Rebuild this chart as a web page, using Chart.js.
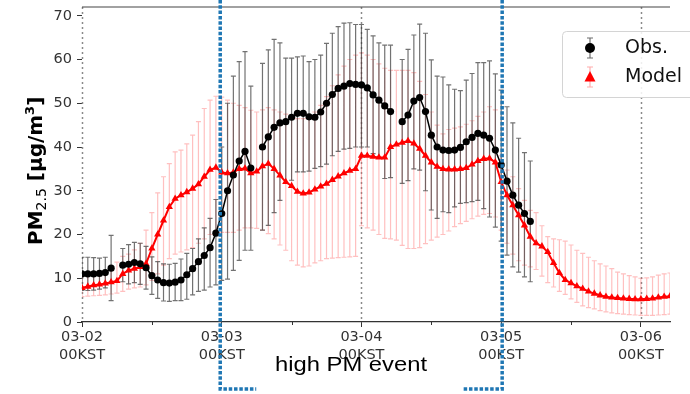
<!DOCTYPE html>
<html>
<head>
<meta charset="utf-8">
<script src="https://cdn.jsdelivr.net/npm/chart.js@4.4.1/dist/chart.umd.min.js"></script>
<style>
  html, body { margin: 0; padding: 0; background: #fff; }
  canvas { display: block; }
</style>
</head>
<body>
<canvas id="pmChart" width="690" height="394"></canvas>
<script>
// hourly values, index = hours since 03-02 00KST
const dayLabels = ["03-02", "03-03", "03-04", "03-05", "03-06"];
const xTicks = [0, 24, 48, 72, 96];
const yTicks = [0, 10, 20, 30, 40, 50, 60, 70];

const obsMean = [
  11.0, 11.0, 11.0, 11.1, 11.3, 12.3, null, 13.0, 13.2, 13.6,
  13.3, 12.4, 10.6, 9.6, 9.0, 8.9, 9.1, 9.6, 10.8, 12.2,
  13.8, 15.2, 17.0, 20.3, 24.8, 30.0, 33.6, 36.8, 39.0, 35.2,
  null, 40.0, 42.3, 44.5, 45.5, 45.8, 46.8, 47.7, 47.7, 46.9,
  46.8, 48.0, 50.0, 52.0, 53.4, 53.9, 54.5, 54.3, 54.2, 53.5,
  51.9, 50.7, 49.4, 48.1, null, 45.8, 47.3, 50.5, 51.3, 48.1,
  42.7, 40.0, 39.3, 39.2, 39.3, 39.9, 41.2, 42.2, 43.1, 42.7,
  42.0, 39.3, 35.9, 32.2, 29.0, 26.7, 24.8, 23.0
];
const obsHi = [
  14.8, 14.8, 14.7, 14.6, 14.8, 19.8, null, 16.8, 17.7, 18.2,
  18.0, 17.3, 14.9, 13.8, 13.3, 13.2, 13.4, 14.4, 15.7, 16.8,
  19.0, 21.5, 23.7, 28.0, 40.0, 50.0, 56.2, 59.5, 61.8, 53.9,
  null, 59.1, 62.2, 64.6, 63.8, 60.3, 60.3, 60.6, 60.8, 59.5,
  60.0, 61.0, 63.7, 66.0, 67.5, 68.3, 68.4, 68.0, 68.0, 66.9,
  65.4, 63.8, 63.3, 63.3, null, 60.0, 62.3, 65.6, 68.1, 66.0,
  59.9, 56.2, 56.0, 54.2, 53.2, 52.9, 55.3, 56.8, 59.3, 59.3,
  59.7, 56.7, 53.0, 49.2, 45.5, 42.0, 38.7, 36.8
];
const obsLo = [
  7.2, 7.2, 7.3, 7.5, 7.8, 4.9, null, 9.2, 8.7, 9.0,
  8.6, 7.5, 6.3, 5.4, 4.8, 4.7, 4.9, 4.9, 5.2, 6.2,
  7.0, 7.3, 8.0, 8.5, 9.5, 9.8, 11.8, 14.1, 16.4, 16.4,
  null, 21.0, 22.1, 25.0, 27.8, 31.7, 32.4, 34.3, 34.3, 34.5,
  35.1, 35.5, 36.1, 38.0, 39.0, 39.5, 39.7, 40.0, 40.0, 40.0,
  38.5, 37.5, 32.8, 33.0, null, 31.7, 32.3, 35.0, 34.7, 30.0,
  25.6, 23.7, 25.2, 25.0, 26.3, 27.1, 27.3, 27.5, 27.8, 25.9,
  24.0, 21.7, 18.5, 15.3, 12.6, 11.4, 10.3, 9.2
];

const modelMean = [
  7.8, 8.1, 8.4, 8.6, 8.8, 9.1, 9.4, 11.0, 11.8, 12.2,
  12.6, 13.3, 16.8, 20.0, 23.2, 26.3, 28.2, 29.0, 29.7, 30.5,
  31.5, 33.2, 34.8, 35.3, 34.2, 34.0, 34.2, 35.0, 35.1, 34.0,
  34.4, 35.6, 36.2, 35.0, 33.5, 32.0, 31.1, 29.8, 29.4, 29.6,
  30.3, 31.0, 31.6, 32.5, 33.3, 34.0, 34.6, 35.0, 38.0, 38.0,
  37.8, 37.6, 37.6, 40.0, 40.6, 41.0, 41.4, 40.8, 39.6, 38.0,
  36.5, 35.5, 35.0, 34.9, 34.9, 35.0, 35.2, 36.0, 36.8, 37.3,
  37.4, 36.5, 32.0, 29.0, 26.7, 24.4, 22.1, 19.5, 18.0, 17.3,
  16.0, 13.5, 11.2, 9.6, 8.9, 8.2, 7.6, 7.0, 6.5, 6.1,
  5.8, 5.6, 5.5, 5.4, 5.3, 5.2, 5.2, 5.3, 5.4, 5.6,
  5.8, 5.9
];
const modelHi = [
  10.5, 10.7, 11.0, 11.2, 11.5, 12.5, 13.7, 15.0, 15.5, 16.5,
  18.0, 21.0, 25.0, 29.5, 33.2, 36.2, 38.9, 39.3, 40.7, 42.7,
  45.8, 48.8, 50.7, 51.6, 51.4, 50.7, 50.0, 49.5, 49.0, 48.4,
  48.0, 48.5, 49.0, 48.5, 48.0, 47.5, 47.0, 46.5, 46.5, 47.0,
  48.0, 49.5, 51.5, 54.0, 56.5, 58.5, 60.0, 61.0, 61.5, 61.0,
  60.0, 59.0, 58.0, 57.5, 57.5, 57.5, 57.5, 57.0, 55.0, 52.0,
  48.0, 45.0, 43.0, 44.0, 44.3, 44.6, 45.2, 46.0, 47.0, 48.0,
  49.2, 48.5, 38.0, 34.7, 33.2, 30.5, 27.8, 25.5, 25.0, 22.0,
  19.5, 19.0, 18.8, 18.5, 17.6, 16.4, 15.7, 14.8, 14.0, 13.3,
  12.8, 12.2, 11.4, 11.0, 10.6, 10.3, 10.0, 10.1, 10.3, 10.7,
  11.0, 11.2
];
const modelLo = [
  5.8, 5.9, 6.0, 6.1, 6.2, 6.4, 6.6, 7.0, 7.5, 7.8,
  8.0, 8.5, 9.5, 11.0, 13.0, 14.5, 15.5, 16.0, 16.5, 17.0,
  18.0, 19.0, 20.0, 20.5, 20.5, 20.5, 20.5, 21.0, 21.5, 21.5,
  21.4, 21.0, 20.2, 19.0, 17.6, 16.4, 14.0, 13.0, 12.6, 12.8,
  13.5, 14.0, 14.5, 14.6, 14.7, 14.8, 14.9, 15.0, 22.0, 21.5,
  21.0, 20.0, 19.1, 19.0, 18.7, 17.5, 16.8, 16.8, 17.0, 17.9,
  18.7, 19.4, 20.0, 20.8, 21.8, 22.5, 23.0, 23.6, 24.2, 24.6,
  24.8, 24.0, 21.0, 18.0, 15.5, 14.0, 13.0, 12.6, 12.0, 10.5,
  9.0, 8.0, 7.0, 6.3, 5.3, 4.5, 3.7, 3.3, 3.0, 2.6,
  2.3, 2.1, 1.9, 1.8, 1.7, 1.6, 1.5, 1.5, 1.5, 1.6,
  1.7, 1.8
];

// event window, in hours
const eventStart = 24;
const eventEnd = 72;

const BLUE = "#1f77b4";

function drawBars(ctx, xs, ys, lo, hi, color) {
  ctx.strokeStyle = color;
  ctx.lineWidth = 1.2;
  ctx.beginPath();
  lo.forEach((l, i) => {
    if (l == null || hi[i] == null) return;
    const px = xs.getPixelForValue(i);
    const y0 = ys.getPixelForValue(l);
    const y1 = ys.getPixelForValue(hi[i]);
    ctx.moveTo(px, y0); ctx.lineTo(px, y1);
    ctx.moveTo(px - 2.5, y0); ctx.lineTo(px + 2.5, y0);
    ctx.moveTo(px - 2.5, y1); ctx.lineTo(px + 2.5, y1);
  });
  ctx.stroke();
}

const backdrop = {
  id: "backdrop",
  beforeDatasetsDraw(chart) {
    const { ctx, chartArea: a, scales: { x, y } } = chart;
    ctx.save();
    // day separators
    ctx.strokeStyle = "#8a8a8a";
    ctx.lineWidth = 1.5;
    ctx.setLineDash([2, 3]);
    [0, 48, 96].forEach(h => {
      const px = Math.round(x.getPixelForValue(h)) + 0.5;
      ctx.beginPath();
      ctx.moveTo(px, a.top);
      ctx.lineTo(px, a.bottom);
      ctx.stroke();
    });
    ctx.setLineDash([]);
    // top spine
    ctx.strokeStyle = "#444";
    ctx.lineWidth = 1.2;
    ctx.beginPath();
    ctx.moveTo(a.left, a.top);
    ctx.lineTo(a.right, a.top);
    ctx.stroke();
    // minor ticks every 12 h
    ctx.strokeStyle = "#333";
    ctx.lineWidth = 1;
    [12, 36, 60, 84].forEach(h => {
      const px = Math.round(x.getPixelForValue(h)) + 0.5;
      ctx.beginPath();
      ctx.moveTo(px, a.bottom);
      ctx.lineTo(px, a.bottom + 3);
      ctx.stroke();
    });
    // error bars
    ctx.beginPath();
    ctx.rect(a.left, a.top, a.right - a.left, a.bottom - a.top);
    ctx.clip();
    drawBars(ctx, x, y, modelLo, modelHi, "rgba(255,90,90,0.38)");
    drawBars(ctx, x, y, obsLo, obsHi, "rgba(60,60,60,0.72)");
    ctx.restore();
  }
};

const overlay = {
  id: "overlay",
  afterDraw(chart) {
    const { ctx, scales: { x } } = chart;
    ctx.save();

    // y axis title with sub/superscript
    ctx.translate(42, 245);
    ctx.rotate(-Math.PI / 2);
    ctx.fillStyle = "#000";
    ctx.textBaseline = "alphabetic";
    let cx = 0;
    const part = (txt, font, dy) => {
      ctx.font = font;
      ctx.fillText(txt, cx, dy);
      cx += ctx.measureText(txt).width;
    };
    part("PM", "bold 20px 'DejaVu Sans'", 0);
    part("2.5", "14px 'DejaVu Sans'", 4);
    part(" [\u03bcg/m", "bold 20px 'DejaVu Sans'", 0);
    part("3", "bold 13px 'DejaVu Sans'", -8);
    part("]", "bold 20px 'DejaVu Sans'", 0);
    ctx.setTransform(1, 0, 0, 1, 0, 0);

    // legend
    const lx = 562, ly = 31, lw = 140, lh = 66;
    ctx.fillStyle = "rgba(255,255,255,0.85)";
    ctx.strokeStyle = "#d4d4d4";
    ctx.lineWidth = 1;
    ctx.beginPath();
    ctx.roundRect(lx + 0.5, ly + 0.5, lw, lh, 4);
    ctx.fill();
    ctx.stroke();

    const mark = (my, color, barColor, shape) => {
      ctx.strokeStyle = barColor;
      ctx.lineWidth = 1.2;
      ctx.beginPath();
      ctx.moveTo(590, my - 10); ctx.lineTo(590, my + 10);
      ctx.moveTo(587, my - 10); ctx.lineTo(593, my - 10);
      ctx.moveTo(587, my + 10); ctx.lineTo(593, my + 10);
      ctx.stroke();
      ctx.fillStyle = color;
      ctx.beginPath();
      if (shape === "circle") {
        ctx.arc(590, my, 5, 0, Math.PI * 2);
      } else {
        ctx.moveTo(590, my - 6);
        ctx.lineTo(595.5, my + 4.5);
        ctx.lineTo(584.5, my + 4.5);
        ctx.closePath();
      }
      ctx.fill();
    };
    mark(48, "#000", "rgba(60,60,60,0.75)", "circle");
    mark(77, "#ff0000", "rgba(255,90,90,0.5)", "triangle");
    ctx.fillStyle = "#111";
    ctx.font = "19px 'DejaVu Sans'";
    ctx.textBaseline = "middle";
    ctx.textAlign = "left";
    ctx.fillText("Obs.", 625, 48);
    ctx.fillText("Model", 625, 77);

    // event window brackets
    ctx.strokeStyle = BLUE;
    ctx.lineWidth = 3.5;
    ctx.setLineDash([3.5, 1.8]);
    const x0 = x.getPixelForValue(eventStart) - 1.5;
    const x1 = x.getPixelForValue(eventEnd) + 1;
    ctx.beginPath();
    ctx.moveTo(x0, 0); ctx.lineTo(x0, 389); ctx.lineTo(x0 + 36, 389);
    ctx.stroke();
    ctx.beginPath();
    ctx.moveTo(x1, 0); ctx.lineTo(x1, 389); ctx.lineTo(x1 - 40, 389);
    ctx.stroke();
    ctx.setLineDash([]);

    // event caption
    const cap = "high PM event";
    ctx.font = "21px 'Liberation Sans'";
    ctx.fillStyle = "#000";
    ctx.textBaseline = "alphabetic";
    ctx.textAlign = "left";
    const w = ctx.measureText(cap).width;
    ctx.translate(275, 371);
    ctx.scale(152 / w, 1);
    ctx.fillText(cap, 0, 0);
    ctx.restore();
  }
};

new Chart(document.getElementById("pmChart"), {
  type: "line",
  data: {
    datasets: [
      {
        label: "Obs.",
        data: obsMean.map((v, i) => ({ x: i, y: v })),
        borderColor: "#000",
        backgroundColor: "#000",
        borderWidth: 1.5,
        pointStyle: "circle",
        pointRadius: 3.6,
        pointBorderWidth: 0,
        spanGaps: false,
        tension: 0,
        order: 0
      },
      {
        label: "Model",
        data: modelMean.map((v, i) => ({ x: i, y: v })),
        borderColor: "#ff0000",
        backgroundColor: "#ff0000",
        borderWidth: 2,
        pointStyle: "triangle",
        pointRadius: 4.2,
        pointBorderWidth: 0,
        tension: 0,
        order: 1
      }
    ]
  },
  options: {
    responsive: false,
    animation: false,
    devicePixelRatio: 1,
    layout: { padding: { top: 7, right: 20, left: 0, bottom: 0 } },
    plugins: {
      legend: { display: false },
      tooltip: { enabled: false }
    },
    scales: {
      x: {
        type: "linear",
        min: 0,
        max: 101,
        afterFit: s => { s.height = 72; s.paddingLeft = 0; s.paddingRight = 0; },
        afterBuildTicks: s => { s.ticks = xTicks.map(v => ({ value: v })); },
        ticks: {
          autoSkip: false,
          maxRotation: 0,
          padding: 2,
          color: "#333",
          font: { family: "DejaVu Sans", size: 14.5, lineHeight: 1.2 },
          callback: v => [dayLabels[v / 24], "00KST"]
        },
        grid: { drawOnChartArea: false, tickLength: 5, color: "#333" },
        border: { display: true, color: "#333", width: 1.2 }
      },
      y: {
        min: 0,
        max: 72,
        afterFit: s => { s.width = 82; s.paddingTop = 0; s.paddingBottom = 0; },
        afterBuildTicks: s => { s.ticks = yTicks.map(v => ({ value: v })); },
        ticks: {
          padding: 5,
          color: "#333",
          font: { family: "DejaVu Sans", size: 14.5 }
        },
        grid: { drawOnChartArea: false, tickLength: 5, color: "#333" },
        border: { display: false }
      }
    }
  },
  plugins: [backdrop, overlay]
});
</script>
</body>
</html>
